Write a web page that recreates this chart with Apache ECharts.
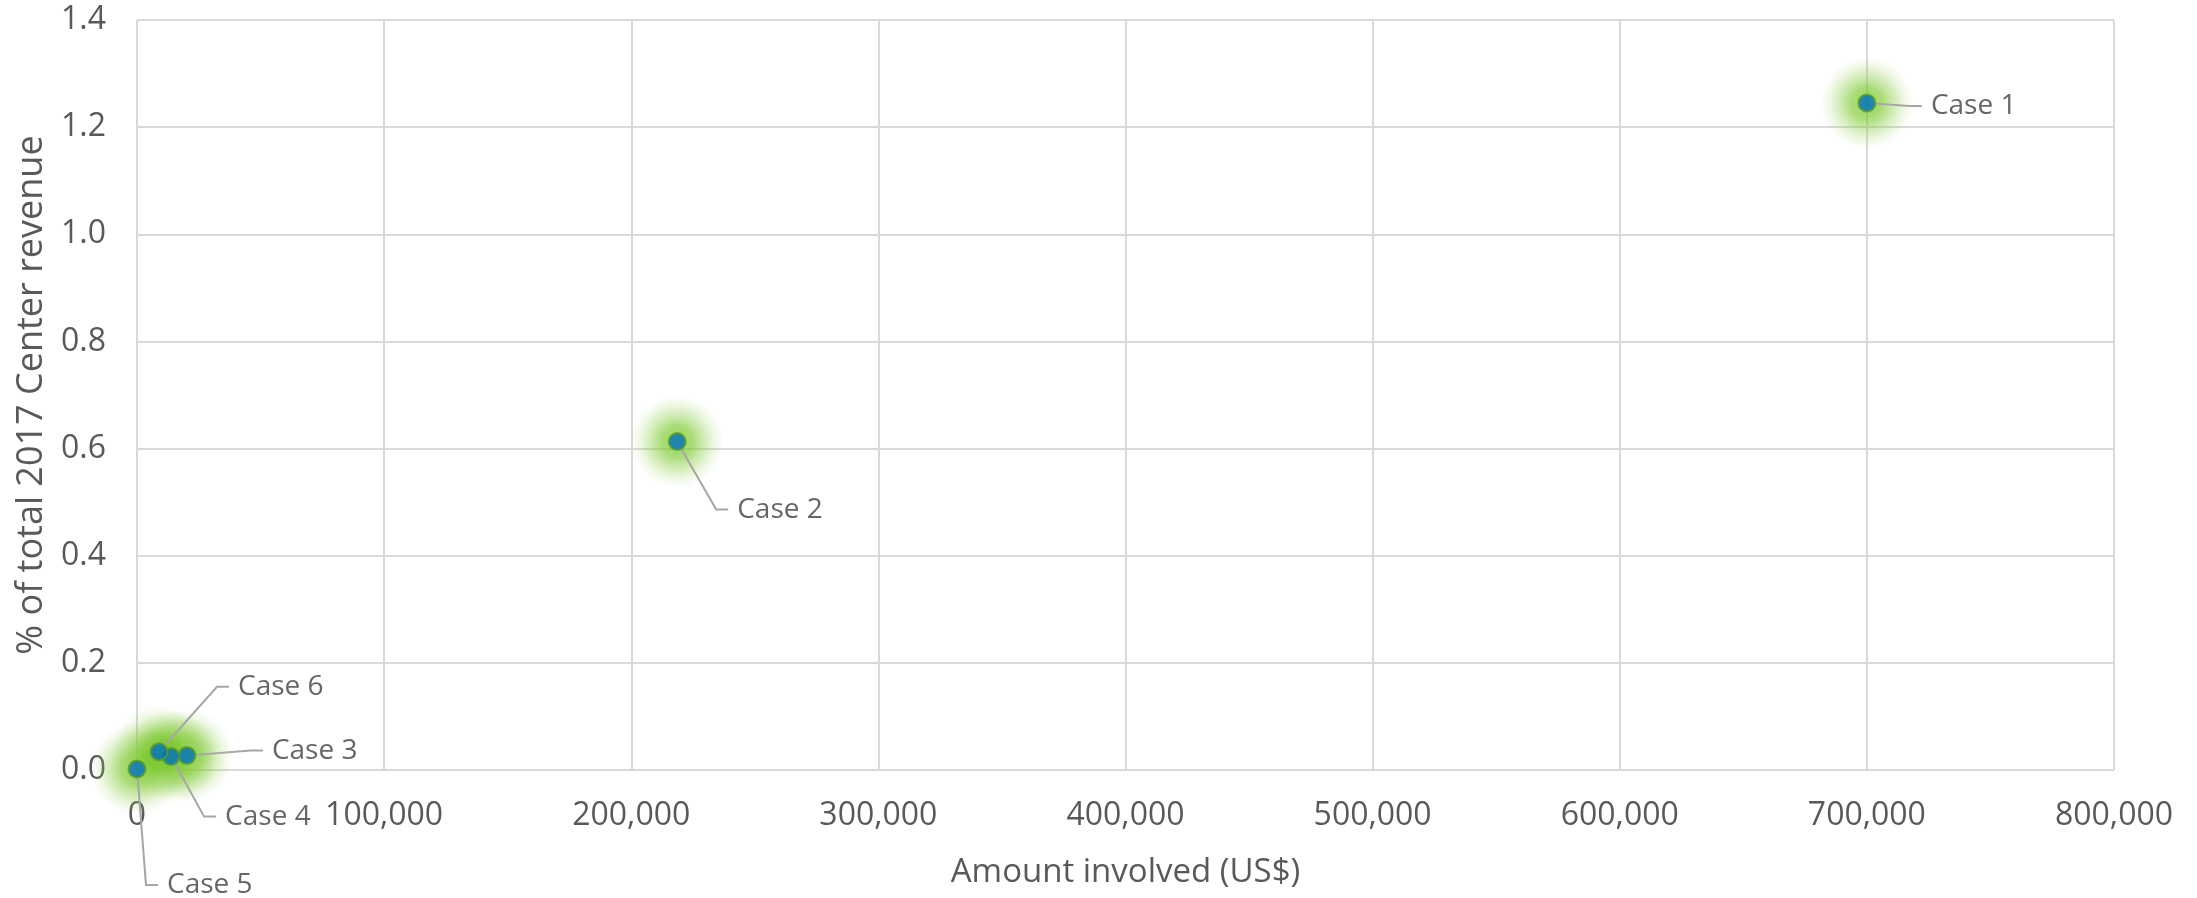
<!DOCTYPE html>
<html>
<head>
<meta charset="utf-8">
<script src="https://cdn.jsdelivr.net/npm/echarts@6/dist/echarts.min.js"></script>
<style>
  html, body { margin: 0; padding: 0; background: #ffffff; }
  #chart { width: 2197px; height: 898px; }
</style>
</head>
<body>
<div id="chart"></div>
<script>
// ---- data ----
const caseNames = ['Case 1', 'Case 2', 'Case 3', 'Case 4', 'Case 5', 'Case 6'];
const amountsUSD = [700000, 218600, 20200, 13800, 0, 8900];
const pctRevenue = [1.245, 0.613, 0.027, 0.025, 0.002, 0.034];
const xTicks = [0, 100000, 200000, 300000, 400000, 500000, 600000, 700000, 800000];
const yTicks = [0, 0.2, 0.4, 0.6, 0.8, 1.0, 1.2, 1.4];

// ---- label placement (layout only, relative to each point) ----
const labelOffsets = [[55, 3], [51, 68], [76, -5], [45, 60], [21, 116], [70, -65]];

const FONT = '"Open Sans", "Noto Sans", sans-serif';
const TEXT = '#595959';
const GRID = '#d9d9d9';

const points = amountsUSD.map((a, i) => ({ name: caseNames[i], value: [a, pctRevenue[i]] }));

const chart = echarts.init(document.getElementById('chart'), null, { renderer: 'canvas' });
chart.setOption({
  animation: false,
  backgroundColor: '#ffffff',
  textStyle: { fontFamily: FONT },
  grid: { left: 137, right: 83, top: 20, bottom: 128, containLabel: false },
  xAxis: {
    type: 'value',
    min: xTicks[0],
    max: xTicks[xTicks.length - 1],
    interval: xTicks[1] - xTicks[0],
    name: 'Amount involved (US$)',
    nameLocation: 'middle',
    nameGap: 86,
    nameTextStyle: { color: TEXT, fontSize: 33, fontFamily: FONT },
    axisLine: { show: false },
    axisTick: { show: false },
    axisLabel: {
      color: TEXT, fontSize: 32, fontFamily: FONT, margin: 30,
      formatter: v => v.toLocaleString('en-US')
    },
    splitLine: { show: true, lineStyle: { color: GRID, width: 2 } }
  },
  yAxis: {
    type: 'value',
    min: yTicks[0],
    max: yTicks[yTicks.length - 1],
    interval: 0.2,
    name: '% of total 2017 Center revenue',
    nameLocation: 'middle',
    nameGap: 86,
    nameTextStyle: { color: TEXT, fontSize: 36, fontFamily: FONT },
    axisLine: { show: false },
    axisTick: { show: false },
    axisLabel: {
      color: TEXT, fontSize: 32, fontFamily: FONT, margin: 31,
      formatter: v => v.toFixed(1)
    },
    splitLine: { show: true, lineStyle: { color: GRID, width: 2 } }
  },
  series: [
    {
      // soft green glow
      type: 'scatter',
      silent: true,
      symbol: 'circle',
      symbolSize: 92,
      data: points,
      itemStyle: {
        color: {
          type: 'radial', x: 0.5, y: 0.5, r: 0.5,
          colorStops: [
            { offset: 0, color: 'rgba(112,196,30,0.9)' },
            { offset: 0.35, color: 'rgba(120,200,40,0.78)' },
            { offset: 0.6, color: 'rgba(146,208,80,0.5)' },
            { offset: 0.8, color: 'rgba(146,208,80,0.2)' },
            { offset: 1, color: 'rgba(146,208,80,0)' }
          ]
        }
      },
      label: { show: false },
      z: 2
    },
    {
      type: 'scatter',
      symbol: 'circle',
      symbolSize: 17,
      data: points,
      itemStyle: { color: '#0070C0', borderColor: '#5c9e1f', borderWidth: 2 },
      label: {
        show: true,
        formatter: p => p.name,
        color: '#404040',
        fontSize: 28,
        fontFamily: FONT,
        padding: [0, 60, 0, 9],
        backgroundColor: 'rgba(255,255,255,0)'
      },
      labelLine: {
        show: true,
        length2: 12,
        lineStyle: { color: '#a6a6a6', width: 2 }
      },
      labelLayout: function (p) {
        const o = labelOffsets[p.dataIndex];
        const cx = p.rect.x + p.rect.width / 2;
        const cy = p.rect.y + p.rect.height / 2;
        return { x: cx + o[0], y: cy + o[1], align: 'left', verticalAlign: 'middle' };
      },
      z: 3
    }
  ]
});
</script>
</body>
</html>
